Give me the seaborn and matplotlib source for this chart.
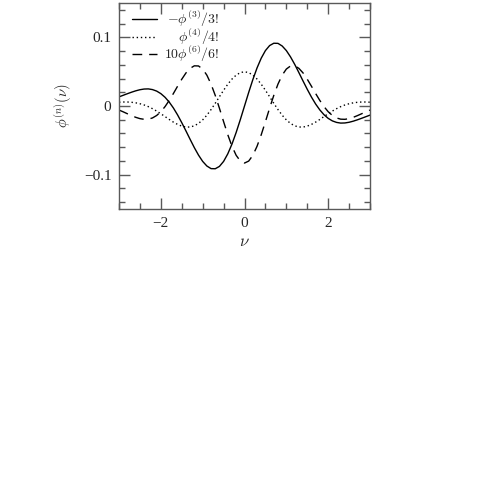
import numpy as np
import pandas as pd
import matplotlib
matplotlib.use("Agg")
import matplotlib.pyplot as plt
from matplotlib.ticker import MultipleLocator
import seaborn as sns

# nu from -3 to 3, step 0.1
nu = np.round(np.arange(-30, 31) / 10.0, 1)

third = [0.0133, 0.0156, 0.0179, 0.0201, 0.0221, 0.0237, 0.0247, 0.0249, 0.0239, 0.0217,
         0.0180, 0.0127, 0.0057, -0.0029, -0.0130, -0.0243, -0.0363, -0.0486, -0.0606, -0.0715,
         -0.0807, -0.0874, -0.0912, -0.0914, -0.0880, -0.0807, -0.0697, -0.0555, -0.0386, -0.0198,
         0.0,
         0.0198, 0.0386, 0.0555, 0.0697, 0.0807, 0.0880, 0.0914, 0.0912, 0.0874, 0.0807,
         0.0715, 0.0606, 0.0486, 0.0363, 0.0243, 0.0130, 0.0029, -0.0057, -0.0127, -0.0180,
         -0.0217, -0.0239, -0.0249, -0.0247, -0.0237, -0.0221, -0.0201, -0.0179, -0.0156, -0.0133]

fourth = [0.0055, 0.0058, 0.0058, 0.0054, 0.0046, 0.0033, 0.0015, -0.0009, -0.0039, -0.0074,
          -0.0113, -0.0154, -0.0196, -0.0235, -0.0268, -0.0293, -0.0307, -0.0306, -0.0289, -0.0254,
          -0.0202, -0.0134, -0.0052, 0.0039, 0.0135, 0.0229, 0.0317, 0.0392, 0.0450, 0.0486,
          0.0499,
          0.0486, 0.0450, 0.0392, 0.0317, 0.0229, 0.0135, 0.0039, -0.0052, -0.0134, -0.0202,
          -0.0254, -0.0289, -0.0306, -0.0307, -0.0293, -0.0268, -0.0235, -0.0196, -0.0154, -0.0113,
          -0.0074, -0.0039, -0.0009, 0.0015, 0.0033, 0.0046, 0.0054, 0.0058, 0.0058, 0.0055]

sixth = [-0.0059, -0.0085, -0.0113, -0.0140, -0.0165, -0.0184, -0.0194, -0.0192, -0.0174, -0.0138,
         -0.0083, -0.0009, 0.0081, 0.0182, 0.0288, 0.0390, 0.0481, 0.0548, 0.0585, 0.0583,
         0.0538, 0.0449, 0.0319, 0.0155, -0.0032, -0.0228, -0.0418, -0.0586, -0.0718, -0.0802,
         -0.0831,
         -0.0802, -0.0718, -0.0586, -0.0418, -0.0228, -0.0032, 0.0155, 0.0319, 0.0449, 0.0538,
         0.0583, 0.0585, 0.0548, 0.0481, 0.0390, 0.0288, 0.0182, 0.0081, -0.0009, -0.0083,
         -0.0138, -0.0174, -0.0192, -0.0194, -0.0184, -0.0165, -0.0140, -0.0113, -0.0085, -0.0059]

labels = [r'$-\phi^{(3)}/3!$', r'$\phi^{(4)}/4!$', r'$10\phi^{(6)}/6!$']
xticks = [-2, 0, 2]
yticks = [-0.1, 0, 0.1]
ytick_labels = ['\u22120.1', '0', '0.1']
xtick_labels = ['\u22122', '0', '2']

sns.set_theme(style="ticks")
plt.rcParams['font.family'] = ['Liberation Serif', 'DejaVu Serif']
plt.rcParams['mathtext.fontset'] = 'cm'
plt.rcParams['xtick.direction'] = 'in'
plt.rcParams['ytick.direction'] = 'in'

df = pd.DataFrame({'nu': nu, 'third': third, 'fourth': fourth, 'sixth': sixth})

fig = plt.figure(figsize=(4.85, 4.84), dpi=100)
ax = fig.add_axes([0.2454, 0.5682, 0.5175, 0.4256])

sns.lineplot(data=df, x='nu', y='third', ax=ax, color='black', lw=1.0, label=labels[0])
sns.lineplot(data=df, x='nu', y='fourth', ax=ax, color='black', lw=1.0, label=labels[1],
             linestyle=(0, (1, 2)))
sns.lineplot(data=df, x='nu', y='sixth', ax=ax, color='black', lw=1.0, label=labels[2],
             linestyle=(0, (7, 5)))

ax.set_xlim(-3, 3)
ax.set_ylim(-0.15, 0.15)
ax.set_xticks(xticks)
ax.set_xticklabels(xtick_labels)
ax.set_yticks(yticks)
ax.set_yticklabels(ytick_labels)
ax.xaxis.set_minor_locator(MultipleLocator(0.5))
ax.yaxis.set_minor_locator(MultipleLocator(0.02))
ax.tick_params(which='both', top=True, right=True, color='0.35', labelsize=11, pad=5.5)
ax.tick_params(which='major', length=8, width=1)
ax.tick_params(which='minor', length=4, width=1)
for s in ax.spines.values():
    s.set_linewidth(1.0)
    s.set_color('0.35')

ax.set_xlabel(r'$\nu$', fontsize=12, labelpad=3)
ax.set_ylabel(r'$\phi^{(n)}(\nu)$', fontsize=10.5, labelpad=7)

leg = ax.legend(loc='upper left', bbox_to_anchor=(0.028, 1.0), frameon=False, fontsize=10,
                handlelength=1.8, handletextpad=0.5, labelspacing=-0.2,
                borderaxespad=0.2, borderpad=0.25)

# right-align legend texts
fig.canvas.draw()
r = fig.canvas.get_renderer()
widths = [t.get_window_extent(r).width for t in leg.get_texts()]
mw = max(widths)
for t, w in zip(leg.get_texts(), widths):
    t.set_position((mw - w, 0))

fig.savefig('out.png', dpi=100)
